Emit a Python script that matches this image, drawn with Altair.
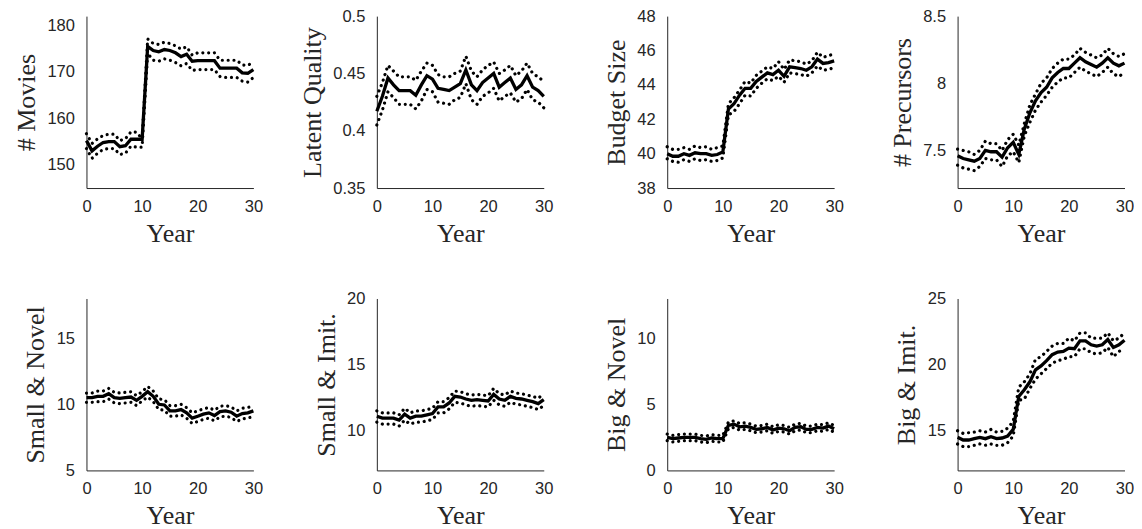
import altair as alt
import pandas as pd

YEARS = list(range(31))

MOV_M = [155.2, 153.0, 154.0, 154.8, 155.0, 155.0, 153.9, 154.1, 155.5, 155.5, 155.5, 175.5, 174.6, 174.3, 174.8, 174.6, 174.1, 173.3, 173.8, 172.3, 172.4, 172.4, 172.4, 172.4, 170.8, 170.8, 170.8, 170.8, 169.8, 169.7, 170.5]
MOV_U = [156.7, 154.6, 155.6, 156.3, 156.6, 156.6, 155.2, 155.6, 157.1, 157.0, 155.6, 177.1, 176.1, 175.9, 176.4, 176.1, 175.6, 174.9, 175.4, 173.6, 174.1, 174.1, 174.1, 174.1, 172.5, 172.5, 172.5, 172.5, 171.5, 171.4, 172.1]
MOV_L = [153.5, 151.4, 152.5, 153.3, 153.5, 153.5, 152.2, 152.5, 154.0, 153.8, 153.8, 174.0, 172.5, 172.3, 172.8, 172.5, 172.0, 171.3, 171.8, 170.3, 170.5, 170.5, 170.5, 170.5, 169.0, 168.8, 168.8, 168.8, 168.0, 167.8, 168.8]

LQ_M = [0.417, 0.430, 0.446, 0.440, 0.435, 0.435, 0.435, 0.431, 0.440, 0.448, 0.445, 0.437, 0.436, 0.435, 0.438, 0.441, 0.453, 0.440, 0.435, 0.442, 0.446, 0.450, 0.438, 0.442, 0.446, 0.436, 0.440, 0.448, 0.438, 0.435, 0.430]
LQ_U = [0.430, 0.442, 0.457, 0.452, 0.447, 0.447, 0.447, 0.444, 0.452, 0.459, 0.457, 0.449, 0.447, 0.447, 0.450, 0.452, 0.465, 0.452, 0.447, 0.453, 0.457, 0.460, 0.450, 0.453, 0.457, 0.448, 0.452, 0.459, 0.450, 0.447, 0.443]
LQ_L = [0.405, 0.418, 0.434, 0.429, 0.423, 0.423, 0.423, 0.419, 0.426, 0.436, 0.434, 0.425, 0.424, 0.423, 0.427, 0.429, 0.441, 0.427, 0.423, 0.430, 0.433, 0.437, 0.426, 0.430, 0.433, 0.425, 0.428, 0.436, 0.427, 0.425, 0.420]

BS_M = [40.0, 39.85, 39.85, 40.0, 39.9, 40.05, 40.0, 40.0, 39.9, 39.95, 40.1, 42.6, 42.9, 43.4, 43.8, 43.8, 44.2, 44.45, 44.7, 44.6, 44.85, 44.5, 45.05, 45.0, 44.95, 44.85, 45.05, 45.5, 45.25, 45.3, 45.4]
BS_U = [40.4, 40.25, 40.25, 40.35, 40.25, 40.45, 40.35, 40.4, 40.25, 40.35, 40.45, 42.9, 43.25, 43.7, 44.2, 44.1, 44.55, 44.8, 45.05, 44.95, 45.35, 44.9, 45.45, 45.4, 45.35, 45.2, 45.4, 45.9, 45.6, 45.7, 45.8]
BS_L = [39.7, 39.55, 39.5, 39.65, 39.55, 39.7, 39.6, 39.65, 39.55, 39.6, 39.75, 42.25, 42.45, 42.9, 43.4, 43.35, 43.8, 44.1, 44.35, 44.25, 44.5, 44.15, 44.7, 44.65, 44.6, 44.5, 44.7, 45.1, 44.85, 44.9, 45.0]

PR_M = [7.46, 7.44, 7.43, 7.42, 7.44, 7.50, 7.49, 7.49, 7.45, 7.52, 7.56, 7.47, 7.66, 7.78, 7.87, 7.93, 7.97, 8.04, 8.08, 8.11, 8.11, 8.15, 8.19, 8.16, 8.14, 8.12, 8.15, 8.19, 8.15, 8.13, 8.15]
PR_U = [7.51, 7.50, 7.49, 7.47, 7.50, 7.57, 7.55, 7.55, 7.50, 7.58, 7.62, 7.54, 7.70, 7.84, 7.92, 8.00, 8.04, 8.11, 8.15, 8.18, 8.18, 8.21, 8.26, 8.23, 8.21, 8.19, 8.21, 8.26, 8.22, 8.20, 8.22]
PR_L = [7.39, 7.37, 7.36, 7.35, 7.38, 7.44, 7.43, 7.43, 7.38, 7.46, 7.49, 7.41, 7.61, 7.71, 7.80, 7.86, 7.91, 7.97, 8.01, 8.04, 8.04, 8.08, 8.12, 8.09, 8.07, 8.05, 8.08, 8.12, 8.07, 8.05, 8.08]

SN_M = [10.5, 10.5, 10.6, 10.6, 10.8, 10.5, 10.45, 10.5, 10.55, 10.3, 10.6, 10.95, 10.6, 10.0, 9.95, 9.5, 9.5, 9.6, 9.35, 8.95, 9.1, 9.25, 9.35, 9.15, 9.45, 9.5, 9.4, 9.1, 9.3, 9.35, 9.5]
SN_U = [10.85, 10.85, 11.0, 11.0, 11.2, 10.9, 10.85, 10.9, 10.95, 10.65, 10.95, 11.35, 11.0, 10.4, 10.35, 9.9, 9.9, 10.0, 9.75, 9.35, 9.5, 9.65, 9.75, 9.55, 9.85, 9.9, 9.8, 9.5, 9.7, 9.75, 9.9]
SN_L = [10.15, 10.15, 10.2, 10.2, 10.4, 10.1, 10.05, 10.1, 10.15, 9.9, 10.25, 10.55, 10.2, 9.6, 9.55, 9.1, 9.1, 9.2, 8.95, 8.55, 8.7, 8.85, 8.95, 8.75, 9.05, 9.1, 9.0, 8.7, 8.9, 8.95, 9.1]

SI_M = [11.1, 10.95, 10.95, 10.95, 10.8, 11.25, 10.95, 11.1, 11.1, 11.2, 11.3, 11.8, 11.8, 12.1, 12.6, 12.55, 12.4, 12.3, 12.35, 12.3, 12.25, 12.75, 12.4, 12.3, 12.6, 12.45, 12.4, 12.3, 12.2, 12.05, 12.35]
SI_U = [11.5, 11.35, 11.35, 11.35, 11.2, 11.7, 11.35, 11.5, 11.5, 11.6, 11.7, 12.2, 12.2, 12.5, 13.0, 12.95, 12.8, 12.7, 12.75, 12.7, 12.65, 13.2, 12.8, 12.7, 13.0, 12.85, 12.8, 12.7, 12.6, 12.45, 12.8]
SI_L = [10.65, 10.5, 10.5, 10.5, 10.35, 10.8, 10.5, 10.65, 10.65, 10.75, 10.85, 11.35, 11.35, 11.65, 12.15, 12.1, 11.95, 11.85, 11.9, 11.85, 11.8, 12.3, 11.95, 11.85, 12.15, 12.0, 11.95, 11.85, 11.75, 11.6, 11.9]

BN_M = [2.5, 2.4, 2.45, 2.5, 2.5, 2.5, 2.4, 2.35, 2.45, 2.4, 2.4, 3.4, 3.5, 3.3, 3.35, 3.25, 3.1, 3.15, 3.25, 3.05, 3.2, 3.15, 3.0, 3.25, 3.3, 3.1, 3.1, 3.25, 3.2, 3.35, 3.15]
BN_U = [2.75, 2.65, 2.7, 2.75, 2.75, 2.75, 2.65, 2.6, 2.7, 2.65, 2.65, 3.65, 3.75, 3.55, 3.6, 3.5, 3.35, 3.4, 3.5, 3.3, 3.45, 3.4, 3.25, 3.5, 3.55, 3.35, 3.35, 3.5, 3.45, 3.6, 3.4]
BN_L = [2.25, 2.15, 2.2, 2.25, 2.25, 2.25, 2.15, 2.1, 2.2, 2.15, 2.15, 3.15, 3.25, 3.05, 3.1, 3.0, 2.85, 2.9, 3.0, 2.8, 2.95, 2.9, 2.75, 3.0, 3.05, 2.85, 2.85, 3.0, 2.95, 3.1, 2.9]

BI_M = [14.5, 14.3, 14.3, 14.4, 14.5, 14.4, 14.55, 14.4, 14.45, 14.6, 15.1, 17.6, 18.1, 18.7, 19.6, 19.9, 20.3, 20.75, 20.95, 21.0, 21.25, 21.2, 21.8, 21.8, 21.5, 21.4, 21.5, 21.9, 21.3, 21.5, 21.85]
BI_U = [15.0, 14.8, 14.85, 14.9, 15.0, 14.9, 15.1, 14.9, 14.95, 15.2, 15.7, 18.3, 18.7, 19.3, 20.4, 20.6, 21.0, 21.4, 21.6, 21.6, 22.0, 21.8, 22.4, 22.4, 22.0, 22.0, 22.0, 22.4, 21.8, 22.0, 22.4]
BI_L = [14.0, 13.8, 13.8, 13.9, 14.0, 13.9, 14.0, 13.9, 13.9, 14.1, 14.6, 17.3, 17.4, 18.2, 18.9, 19.3, 19.7, 20.1, 20.3, 20.4, 20.6, 20.6, 21.2, 21.2, 20.9, 20.8, 20.9, 21.3, 20.6, 21.0, 21.2]

TITLES = ["# Movies", "Latent Quality", "Budget Size", "# Precursors",
          "Small & Novel", "Small & Imit.", "Big & Novel", "Big & Imit."]
SERIES = [(MOV_M, MOV_U, MOV_L), (LQ_M, LQ_U, LQ_L), (BS_M, BS_U, BS_L), (PR_M, PR_U, PR_L),
          (SN_M, SN_U, SN_L), (SI_M, SI_U, SI_L), (BN_M, BN_U, BN_L), (BI_M, BI_U, BI_L)]
DOMAINS = [[145, 182], [0.35, 0.5], [38, 48], [7.22, 8.5], [5, 18], [7, 20], [0, 13], [12, 25]]
YTICKS = [[150, 160, 170, 180], [0.35, 0.4, 0.45, 0.5], [38, 40, 42, 44, 46, 48], [7.5, 8, 8.5],
          [5, 10, 15], [10, 15, 20], [0, 5, 10], [15, 20, 25]]
XTICKS = [0, 10, 20, 30]

INK = "#262626"


def panel(title, series, dom, ticks):
    mean, up, lo = series
    n = len(YEARS)
    df = pd.DataFrame({
        "Year": YEARS * 3,
        "v": list(mean) + list(up) + list(lo),
        "s": ["mean"] * n + ["upper"] * n + ["lower"] * n,
    })
    base = alt.Chart(df).encode(
        x=alt.X("Year:Q", scale=alt.Scale(domain=[0, 30], nice=False),
                axis=alt.Axis(values=XTICKS, title="Year", labelFlush=False, format="d")),
        y=alt.Y("v:Q", scale=alt.Scale(domain=dom, nice=False, zero=False),
                axis=alt.Axis(values=ticks, format=".6~g", title=title)),
    )
    dots = base.transform_filter(alt.datum.s != "mean").mark_line(
        color="black", strokeWidth=3.2, strokeCap="round", strokeDash=[0.01, 5.8]
    ).encode(detail="s:N")
    solid = base.transform_filter(alt.datum.s == "mean").mark_line(
        color="black", strokeWidth=3.3
    )
    return alt.layer(dots, solid).properties(width=167, height=172)


charts = [panel(TITLES[i], SERIES[i], DOMAINS[i], YTICKS[i]) for i in range(8)]
chart = alt.concat(
    *charts, columns=4, spacing={"row": 110.5, "column": 123.5}, bounds="flush",
    padding={"left": 4.5, "right": 0, "top": 0, "bottom": 0},
).configure_view(
    stroke=None
).configure_axis(
    grid=False, ticks=False, domainColor=INK, domainWidth=1,
    labelFont="Liberation Sans", labelFontSize=16.5, labelColor=INK,
    titleFont="Liberation Serif", titleFontSize=26, titleFontWeight="normal", titleColor=INK,
).configure_axisX(
    labelPadding=10.5, titlePadding=5
).configure_axisY(
    labelPadding=12, titlePadding=7.5
)

chart.save("out.html", embed_options={"renderer": "svg", "actions": False})
